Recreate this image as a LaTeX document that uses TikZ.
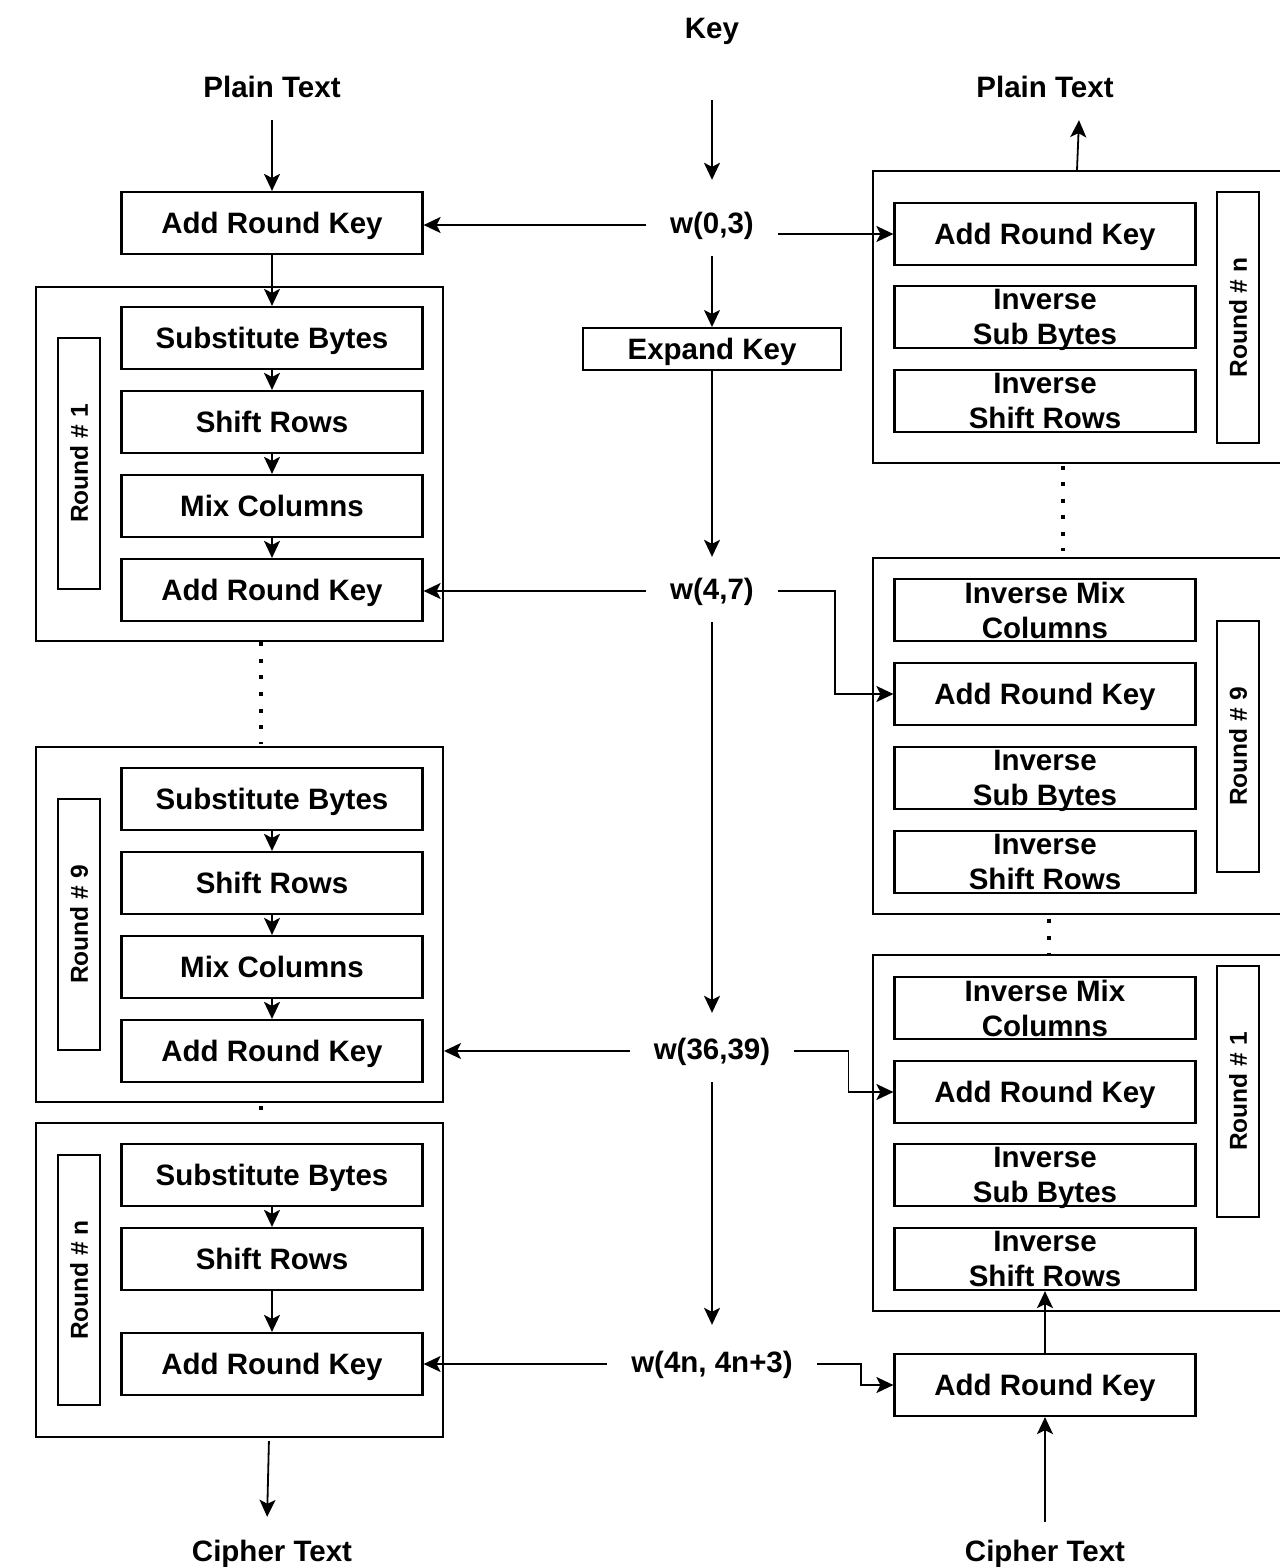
\documentclass[tikz,border=0pt]{standalone}
\usepackage{fontspec}
\setmainfont{Liberation Sans}
\usetikzlibrary{arrows.meta}
\begin{document}
\begin{tikzpicture}[x=1pt,y=-1pt,
  every node/.style={font=\bfseries\fontsize{29.5}{35}\selectfont},
  box/.style={draw, line width=2.2pt, minimum width=301pt, minimum height=62pt, inner sep=0pt, text height=24pt, text depth=3pt},
  boxtwo/.style={draw, line width=2.2pt, minimum width=301pt, minimum height=62pt, inner sep=0pt, align=center},
  outer/.style={draw, line width=2pt, inner sep=0pt, minimum width=407pt},
  rlabel/.style={draw, line width=2pt, rotate=90, minimum height=42pt, inner sep=0pt, font=\bfseries\fontsize{24.5}{30}\selectfont},
  txt/.style={inner xsep=24pt, inner ysep=17pt, text height=22pt, text depth=6pt},
  arr/.style={line width=1.8pt, -{Stealth[length=17pt,width=16pt,inset=4pt]}},
  dotline/.style={line width=4pt, line cap=butt, dash pattern=on 4pt off 12.67pt}
]
\fill[white] (0,0) rectangle (1280,1567);
\useasboundingbox (0,0) rectangle (1280,1567);

% ---------- titles ----------
\node[txt] (key) at (712,30) {Key};
\node[txt] (ptL) at (272,89) {Plain Text};
\node[txt] (ptR) at (1045,89) {Plain Text};
\node[txt] (ctL) at (272,1553) {Cipher Text};
\node[txt] (ctR) at (1045,1553) {Cipher Text};

% ---------- left column ----------
\node[box] (ark0) at (272,223) {Add Round Key};

\node[outer, minimum height=354pt] (L1) at (239.5,464) {};
\node[box] (sb1) at (272,338) {Substitute Bytes};
\node[box] (sr1) at (272,422) {Shift Rows};
\node[box] (mc1) at (272,506) {Mix Columns};
\node[box] (ark1) at (272,590) {Add Round Key};
\node[rlabel, minimum width=251pt] (lab1) at (79,463.5) {Round \# 1};

\node[outer, minimum height=355pt] (L9) at (239.5,924.5) {};
\node[box] (sb9) at (272,799) {Substitute Bytes};
\node[box] (sr9) at (272,883) {Shift Rows};
\node[box] (mc9) at (272,967) {Mix Columns};
\node[box] (ark9) at (272,1051) {Add Round Key};
\node[rlabel, minimum width=251pt] (lab9) at (79,924.5) {Round \# 9};

\node[outer, minimum height=314pt] (Ln) at (239.5,1280) {};
\node[box] (sbn) at (272,1175) {Substitute Bytes};
\node[box] (srn) at (272,1259) {Shift Rows};
\node[box] (arkn) at (272,1364) {Add Round Key};
\node[rlabel, minimum width=250pt] (labn) at (79,1280) {Round \# n};

% ---------- middle ----------
\node[txt] (w03) at (712,225) {w(0,3)};
\node[draw, line width=2pt, minimum width=258pt, minimum height=42pt, inner sep=0pt, text height=24pt, text depth=3pt] (ek) at (712,349) {Expand Key};
\node[txt] (w47) at (712,591) {w(4,7)};
\node[txt] (w3639) at (712,1051) {w(36,39)};
\node[txt] (w4n) at (712,1364) {w(4n, 4n+3)};

% ---------- right column ----------
\node[outer, minimum width=408pt, minimum height=292pt] (Rn) at (1077,317) {};
\node[box] (rarkn) at (1045,234) {Add Round Key};
\node[boxtwo] (risbn) at (1045,317) {Inverse\\\smash{Sub Bytes}};
\node[boxtwo] (risrn) at (1045,401) {Inverse\\Shift Rows};
\node[rlabel, minimum width=251pt] (rlabn) at (1238,317.5) {Round \# n};

\node[outer, minimum width=408pt, minimum height=356pt] (R9) at (1077,735.5) {};
\node[boxtwo] (rimc9) at (1045,610) {Inverse Mix\\Columns};
\node[box] (rark9) at (1045,694) {Add Round Key};
\node[boxtwo] (risb9) at (1045,778) {Inverse\\\smash{Sub Bytes}};
\node[boxtwo] (risr9) at (1045,862) {Inverse\\Shift Rows};
\node[rlabel, minimum width=251pt] (rlab9) at (1238,746.5) {Round \# 9};

\node[outer, minimum width=408pt, minimum height=356pt] (R1) at (1077,1133) {};
\node[boxtwo] (rimc1) at (1045,1008) {Inverse Mix\\Columns};
\node[box] (rark1) at (1045,1092) {Add Round Key};
\node[boxtwo] (risb1) at (1045,1175) {Inverse\\\smash{Sub Bytes}};
\node[boxtwo] (risr1) at (1045,1259) {Inverse\\Shift Rows};
\node[rlabel, minimum width=251pt] (rlab1) at (1238,1091.5) {Round \# 1};

\node[box] (rark0) at (1045,1385) {Add Round Key};

% ---------- left connectors ----------
\draw[arr] (ptL) -- (ark0);
\draw[arr] (ark0) -- (sb1);
\draw[arr] (sb1) -- (sr1);
\draw[arr] (sr1) -- (mc1);
\draw[arr] (mc1) -- (ark1);
\draw[arr] (sb9) -- (sr9);
\draw[arr] (sr9) -- (mc9);
\draw[arr] (mc9) -- (ark9);
\draw[arr] (sbn) -- (srn);
\draw[arr] (srn) -- (arkn);
\draw[arr, shorten <=3pt, shorten >=5pt] ([xshift=-3pt]Ln.south -| arkn.south) -- ([xshift=-5pt]ctL.north);

% ---------- key connectors ----------
\draw[arr, shorten <=39pt, shorten >=14pt] (key) -- (w03);
\draw[arr] (w03) -- (ek);
\draw[arr, shorten >=3pt] (ek) -- (w47);
\draw[arr, shorten >=7pt] (w47) -- (w3639);
\draw[arr, shorten >=8pt] (w3639) -- (w4n);

\draw[arr] (w03.west) -- (w03.west -| ark0.east);
\draw[arr] (rarkn.west -| w03.east) -- (rarkn.west);
\draw[arr] (w47.west) -- (w47.west -| ark1.east);
\draw[arr] (w47.east) -- ++(57,0) |- (rark9.west);
\draw[arr] (w3639.west) -- (w3639.west -| L9.east);
\draw[arr] (w3639.east) -- ++(54,0) |- (rark1.west);
\draw[arr] (w4n.west) -- (w4n.west -| arkn.east);
\draw[arr] (w4n.east) -- ++(44,0) |- (rark0.west);

% ---------- right connectors ----------
\draw[arr] (Rn.north) -- ([xshift=2pt]Rn.north |- ptR.south);
\draw[arr] (ctR) -- (rark0);
\draw[arr] (rark0) -- (risr1);

% ---------- dotted continuations ----------
\draw[dotline, shorten >=2pt] ([xshift=21.5pt]L1.south) -- ([xshift=21.5pt]L9.north);
\fill ([xshift=21.5pt]L9.south) ++(-2,3) rectangle ++(4,4);
\draw[dotline, dash pattern=on 4pt off 12.4pt, shorten <=2pt, shorten >=6pt] ([xshift=-14pt]Rn.south) -- ([xshift=-14pt]R9.north);
\draw[dotline, dash pattern=on 4pt off 13pt, shorten <=4pt] ([xshift=-28pt]R9.south) -- ([xshift=-28pt]R1.north);
\end{tikzpicture}
\end{document}
